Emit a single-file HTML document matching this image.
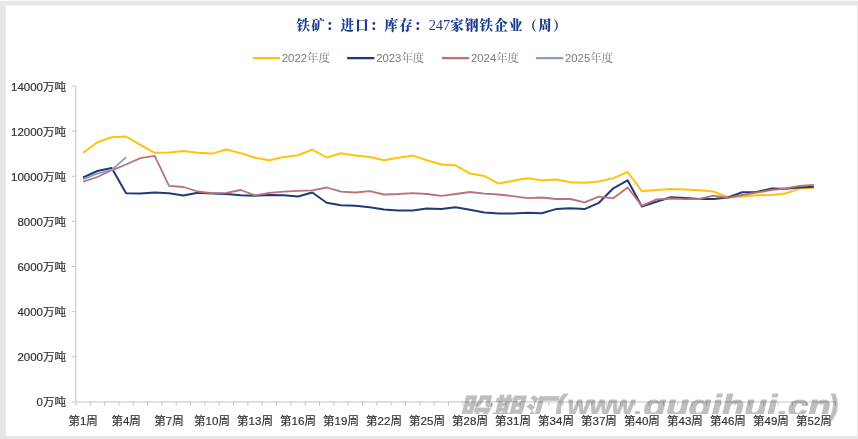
<!DOCTYPE html>
<html lang="zh-CN"><head><meta charset="utf-8"><title>铁矿：进口：库存：247家钢铁企业（周）</title>
<style>
html,body{margin:0;padding:0;background:#fff;}
body{width:858px;height:439px;overflow:hidden;}
svg{display:block;}
.ax{font-family:"Liberation Sans","Noto Sans CJK SC",sans-serif;font-size:11.5px;fill:#333;stroke:#333;stroke-width:0.2px;}
.lg{font-family:"Liberation Sans","Noto Serif CJK SC",sans-serif;font-size:11.33px;fill:#7a7a7a;}
.lg .k{font-family:"Noto Serif CJK SC","Liberation Serif",serif;font-size:11.4px;}
.tt{font-family:"Liberation Serif","Noto Serif CJK SC",serif;font-size:13.5px;letter-spacing:1.17px;font-weight:900;fill:#1b3d8c;}
.tt .n{font-weight:400;font-size:14.4px;letter-spacing:0;}
.wm{font-style:italic;fill:#000;stroke:#000;stroke-linejoin:round;}
.wm .c{font-family:"Noto Sans CJK SC",sans-serif;font-weight:900;font-size:31px;stroke-width:0.25px;}
.wm .e{font-family:"Liberation Sans",sans-serif;font-weight:700;font-size:29px;stroke-width:0.9px;}
</style></head><body>
<svg width="858" height="439" viewBox="0 0 858 439">
<rect x="0" y="0" width="858" height="439" fill="#e6e6e6"/>
<rect x="0" y="0" width="858" height="1" fill="#fafafa"/>
<rect x="5.7" y="5.4" width="851.3" height="430.5" fill="#ffffff"/>
<text class="tt" x="296.6" y="30.3">铁矿：进口：库存：<tspan class="n">247</tspan>家钢铁企业（周）</text>
<line x1="252.8" y1="58.1" x2="280.0" y2="58.1" stroke="#ffc20e" stroke-width="2.3"/><text class="lg" x="281.8" y="62.3">2022<tspan class="k">年度</tspan></text>
<line x1="347.2" y1="58.1" x2="374.4" y2="58.1" stroke="#1f3a7a" stroke-width="2.3"/><text class="lg" x="376.2" y="62.3">2023<tspan class="k">年度</tspan></text>
<line x1="442" y1="58.1" x2="469.2" y2="58.1" stroke="#bc7274" stroke-width="2.3"/><text class="lg" x="471.0" y="62.3">2024<tspan class="k">年度</tspan></text>
<line x1="536" y1="58.1" x2="563.2" y2="58.1" stroke="#8a9fc6" stroke-width="2.3"/><text class="lg" x="565.0" y="62.3">2025<tspan class="k">年度</tspan></text>
<g stroke="#c4c4c4" stroke-width="1" fill="none"><line x1="75.8" y1="85.95" x2="75.8" y2="401.95"/><line x1="75.8" y1="401.95" x2="835.4" y2="401.95"/><line x1="71.8" y1="85.95" x2="75.8" y2="85.95"/><line x1="71.8" y1="131.09" x2="75.8" y2="131.09"/><line x1="71.8" y1="176.24" x2="75.8" y2="176.24"/><line x1="71.8" y1="221.38" x2="75.8" y2="221.38"/><line x1="71.8" y1="266.52" x2="75.8" y2="266.52"/><line x1="71.8" y1="311.66" x2="75.8" y2="311.66"/><line x1="71.8" y1="356.81" x2="75.8" y2="356.81"/><line x1="71.8" y1="401.95" x2="75.8" y2="401.95"/><line x1="75.90" y1="401.95" x2="75.90" y2="405.55"/><line x1="90.23" y1="401.95" x2="90.23" y2="405.55"/><line x1="104.56" y1="401.95" x2="104.56" y2="405.55"/><line x1="118.89" y1="401.95" x2="118.89" y2="405.55"/><line x1="133.22" y1="401.95" x2="133.22" y2="405.55"/><line x1="147.55" y1="401.95" x2="147.55" y2="405.55"/><line x1="161.88" y1="401.95" x2="161.88" y2="405.55"/><line x1="176.21" y1="401.95" x2="176.21" y2="405.55"/><line x1="190.54" y1="401.95" x2="190.54" y2="405.55"/><line x1="204.87" y1="401.95" x2="204.87" y2="405.55"/><line x1="219.20" y1="401.95" x2="219.20" y2="405.55"/><line x1="233.53" y1="401.95" x2="233.53" y2="405.55"/><line x1="247.86" y1="401.95" x2="247.86" y2="405.55"/><line x1="262.19" y1="401.95" x2="262.19" y2="405.55"/><line x1="276.52" y1="401.95" x2="276.52" y2="405.55"/><line x1="290.85" y1="401.95" x2="290.85" y2="405.55"/><line x1="305.18" y1="401.95" x2="305.18" y2="405.55"/><line x1="319.51" y1="401.95" x2="319.51" y2="405.55"/><line x1="333.84" y1="401.95" x2="333.84" y2="405.55"/><line x1="348.17" y1="401.95" x2="348.17" y2="405.55"/><line x1="362.50" y1="401.95" x2="362.50" y2="405.55"/><line x1="376.83" y1="401.95" x2="376.83" y2="405.55"/><line x1="391.16" y1="401.95" x2="391.16" y2="405.55"/><line x1="405.49" y1="401.95" x2="405.49" y2="405.55"/><line x1="419.82" y1="401.95" x2="419.82" y2="405.55"/><line x1="434.15" y1="401.95" x2="434.15" y2="405.55"/><line x1="448.48" y1="401.95" x2="448.48" y2="405.55"/><line x1="462.81" y1="401.95" x2="462.81" y2="405.55"/><line x1="477.14" y1="401.95" x2="477.14" y2="405.55"/><line x1="491.47" y1="401.95" x2="491.47" y2="405.55"/><line x1="505.80" y1="401.95" x2="505.80" y2="405.55"/><line x1="520.13" y1="401.95" x2="520.13" y2="405.55"/><line x1="534.46" y1="401.95" x2="534.46" y2="405.55"/><line x1="548.79" y1="401.95" x2="548.79" y2="405.55"/><line x1="563.12" y1="401.95" x2="563.12" y2="405.55"/><line x1="577.45" y1="401.95" x2="577.45" y2="405.55"/><line x1="591.78" y1="401.95" x2="591.78" y2="405.55"/><line x1="606.11" y1="401.95" x2="606.11" y2="405.55"/><line x1="620.44" y1="401.95" x2="620.44" y2="405.55"/><line x1="634.77" y1="401.95" x2="634.77" y2="405.55"/><line x1="649.10" y1="401.95" x2="649.10" y2="405.55"/><line x1="663.43" y1="401.95" x2="663.43" y2="405.55"/><line x1="677.76" y1="401.95" x2="677.76" y2="405.55"/><line x1="692.09" y1="401.95" x2="692.09" y2="405.55"/><line x1="706.42" y1="401.95" x2="706.42" y2="405.55"/><line x1="720.75" y1="401.95" x2="720.75" y2="405.55"/><line x1="735.08" y1="401.95" x2="735.08" y2="405.55"/><line x1="749.41" y1="401.95" x2="749.41" y2="405.55"/><line x1="763.74" y1="401.95" x2="763.74" y2="405.55"/><line x1="778.07" y1="401.95" x2="778.07" y2="405.55"/><line x1="792.40" y1="401.95" x2="792.40" y2="405.55"/><line x1="806.73" y1="401.95" x2="806.73" y2="405.55"/><line x1="821.06" y1="401.95" x2="821.06" y2="405.55"/><line x1="835.39" y1="401.95" x2="835.39" y2="405.55"/></g>
<text class="ax" x="66" y="90.5" text-anchor="end">14000万吨</text><text class="ax" x="66" y="135.6" text-anchor="end">12000万吨</text><text class="ax" x="66" y="180.7" text-anchor="end">10000万吨</text><text class="ax" x="66" y="225.9" text-anchor="end">8000万吨</text><text class="ax" x="66" y="271.0" text-anchor="end">6000万吨</text><text class="ax" x="66" y="316.2" text-anchor="end">4000万吨</text><text class="ax" x="66" y="361.3" text-anchor="end">2000万吨</text><text class="ax" x="66" y="406.4" text-anchor="end">0万吨</text>
<g fill="none" stroke-linejoin="round" stroke-linecap="butt"><polyline stroke="#ffc20e" stroke-width="2" points="83.1,152.8 97.4,142.3 111.7,137.3 126.1,136.6 140.4,144.8 154.7,152.8 169.0,152.5 183.4,151.1 197.7,152.8 212.0,153.6 226.4,149.5 240.7,153.1 255.0,157.8 269.4,160.3 283.7,157.0 298.0,155.3 312.3,149.5 326.7,157.5 341.0,153.3 355.3,155.6 369.7,157.0 384.0,160.3 398.3,157.8 412.7,155.6 427.0,160.3 441.3,164.5 455.6,165.3 470.0,173.6 484.3,176.1 498.6,183.6 513.0,180.8 527.3,178.3 541.6,180.3 556.0,179.5 570.3,182.3 584.6,182.8 598.9,181.5 613.3,178.1 627.6,172.0 641.9,191.2 656.3,190.0 670.6,189.0 684.9,189.4 699.3,190.3 713.6,191.5 727.9,197.5 742.2,196.6 756.6,195.3 770.9,194.9 785.2,193.5 799.6,188.6 813.9,187.8"/><polyline stroke="#1f3a7a" stroke-width="2" points="83.1,177.5 97.4,171.0 111.7,168.0 126.1,193.3 140.4,193.6 154.7,192.5 169.0,193.3 183.4,195.6 197.7,192.8 212.0,193.6 226.4,194.1 240.7,195.3 255.0,195.8 269.4,195.0 283.7,195.3 298.0,196.5 312.3,192.5 326.7,202.8 341.0,205.3 355.3,205.8 369.7,207.3 384.0,209.5 398.3,210.6 412.7,210.6 427.0,208.6 441.3,209.1 455.6,207.3 470.0,209.8 484.3,212.5 498.6,213.6 513.0,213.6 527.3,212.8 541.6,213.3 556.0,209.1 570.3,208.3 584.6,209.1 598.9,202.8 613.3,188.3 627.6,180.3 641.9,206.5 656.3,201.8 670.6,197.3 684.9,198.1 699.3,198.9 713.6,199.1 727.9,197.5 742.2,192.3 756.6,191.9 770.9,188.6 785.2,188.7 799.6,187.4 813.9,186.8"/><polyline stroke="#bc7274" stroke-width="1.8" points="83.1,181.6 97.4,177.0 111.7,170.3 126.1,164.5 140.4,158.1 154.7,155.8 169.0,185.8 183.4,187.0 197.7,191.5 212.0,193.1 226.4,192.8 240.7,190.0 255.0,195.3 269.4,192.8 283.7,191.6 298.0,190.8 312.3,190.3 326.7,187.5 341.0,191.6 355.3,192.5 369.7,191.1 384.0,194.5 398.3,194.0 412.7,193.1 427.0,194.0 441.3,195.8 455.6,194.0 470.0,192.0 484.3,193.6 498.6,194.5 513.0,196.1 527.3,198.1 541.6,197.5 556.0,199.0 570.3,199.0 584.6,202.3 598.9,196.6 613.3,198.3 627.6,187.5 641.9,205.9 656.3,199.4 670.6,198.5 684.9,199.2 699.3,199.0 713.6,195.6 727.9,197.8 742.2,195.0 756.6,192.7 770.9,190.1 785.2,188.5 799.6,185.9 813.9,184.8"/><polyline stroke="#8a9fc6" stroke-width="1.8" points="83.1,179.1 97.4,173.7 111.7,169.9 126.1,157.3"/></g>
<text class="wm" opacity="0.25"><tspan class="c" x="457.5" y="420.5" textLength="97" lengthAdjust="spacingAndGlyphs">股期汇</tspan><tspan class="e" x="555.5" y="416">(</tspan><tspan class="e" x="567.5" y="416" textLength="66.5" lengthAdjust="spacingAndGlyphs">www</tspan><tspan class="e" x="634" y="416">.</tspan><tspan class="e" x="643.5" y="416" textLength="187.5" lengthAdjust="spacingAndGlyphs">guqihui.cn</tspan><tspan class="e" x="828.5" y="416">)</tspan></text>
<rect x="76" y="414" width="755" height="14.4" fill="#ffffff"/>
<text class="ax" x="83.1" y="425.2" text-anchor="middle">第1周</text><text class="ax" x="126.1" y="425.2" text-anchor="middle">第4周</text><text class="ax" x="169.0" y="425.2" text-anchor="middle">第7周</text><text class="ax" x="212.0" y="425.2" text-anchor="middle">第10周</text><text class="ax" x="255.0" y="425.2" text-anchor="middle">第13周</text><text class="ax" x="298.0" y="425.2" text-anchor="middle">第16周</text><text class="ax" x="341.0" y="425.2" text-anchor="middle">第19周</text><text class="ax" x="384.0" y="425.2" text-anchor="middle">第22周</text><text class="ax" x="427.0" y="425.2" text-anchor="middle">第25周</text><text class="ax" x="470.0" y="425.2" text-anchor="middle">第28周</text><text class="ax" x="513.0" y="425.2" text-anchor="middle">第31周</text><text class="ax" x="556.0" y="425.2" text-anchor="middle">第34周</text><text class="ax" x="598.9" y="425.2" text-anchor="middle">第37周</text><text class="ax" x="641.9" y="425.2" text-anchor="middle">第40周</text><text class="ax" x="684.9" y="425.2" text-anchor="middle">第43周</text><text class="ax" x="727.9" y="425.2" text-anchor="middle">第46周</text><text class="ax" x="770.9" y="425.2" text-anchor="middle">第49周</text><text class="ax" x="813.9" y="425.2" text-anchor="middle">第52周</text>
</svg>
</body></html>
